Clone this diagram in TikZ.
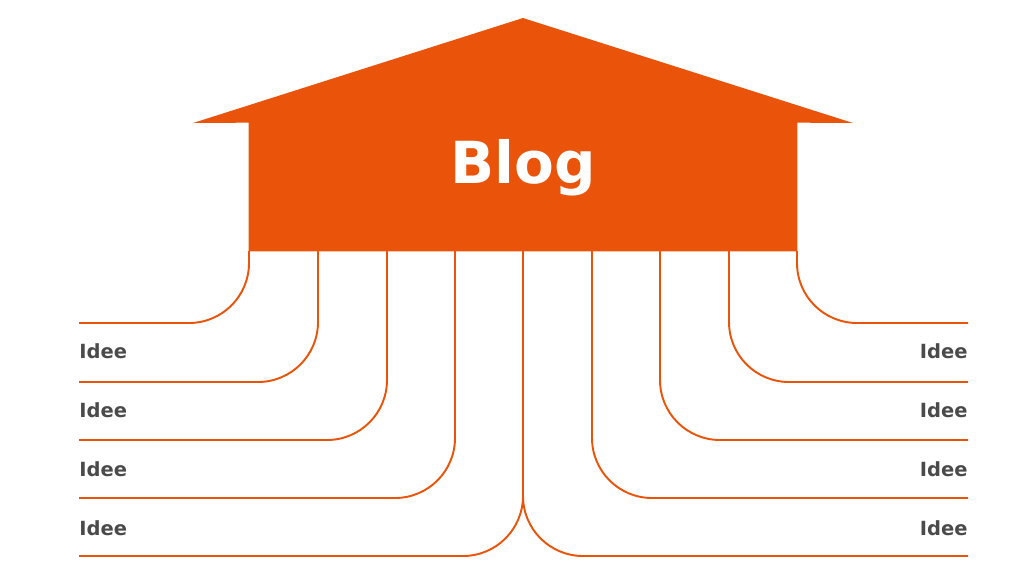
\documentclass[tikz,border=0pt]{standalone}
\usepackage{fontspec}
\setmainfont{DejaVu Sans}
\usepackage{tikz}
\usetikzlibrary{positioning}
\definecolor{blogorange}{HTML}{E9540A}
\definecolor{ideagray}{HTML}{4A4A4A}
\tikzstyle{housebody} = [rectangle, fill=blogorange, draw=none, minimum width=10.96cm, minimum height=2.56cm, inner sep=0pt]
\tikzstyle{title} = [text=white, font=\fontsize{33}{38}\selectfont\bfseries, inner sep=0pt]
\tikzstyle{idea} = [text=ideagray, font=\fontsize{11.1}{14}\selectfont\bfseries, inner sep=0pt]
\tikzstyle{branch} = [draw=blogorange, line width=1.1pt, rounded corners=1.2cm]

\begin{document}
\begin{tikzpicture}[x=0.02cm, y=-0.02cm]
\useasboundingbox (0,0) rectangle (1024,576);

% house
\node (body) [housebody] at (523,187) {};
\fill[blogorange] (193,123) -- (523,18) -- (853,123) -- (body.north east) -- (body.south east) -- (body.south west) -- (body.north west) -- cycle;
\node (blog) [title, anchor=base] at (523,183) {Blog};

% start points under the house
\coordinate (t1) at (249,251);
\coordinate (t2) at (318,251);
\coordinate (t3) at (387,251);
\coordinate (t4) at (455,251);
\coordinate (t5) at (523,251);
\coordinate (t6) at (592,251);
\coordinate (t7) at (660,251);
\coordinate (t8) at (729,251);
\coordinate (t9) at (797,251);

% ends left and right
\coordinate (l1) at (79,323);
\coordinate (l2) at (79,382);
\coordinate (l3) at (79,440);
\coordinate (l4) at (79,498);
\coordinate (l5) at (79,556);
\coordinate (r1) at (968,323);
\coordinate (r2) at (968,382);
\coordinate (r3) at (968,440);
\coordinate (r4) at (968,498);
\coordinate (r5) at (968,556);

% branches
\draw [branch] (t1) |- (l1);
\draw [branch] (t2) |- (l2);
\draw [branch] (t3) |- (l3);
\draw [branch] (t4) |- (l4);
\draw [branch] (t5) |- (l5);
\draw [branch] (t5) |- (r5);
\draw [branch] (t6) |- (r4);
\draw [branch] (t7) |- (r3);
\draw [branch] (t8) |- (r2);
\draw [branch] (t9) |- (r1);

% ideas
\node (il1) [idea, anchor=base west] at (79,358) {Idee};
\node (il2) [idea, anchor=base west] at (79,417) {Idee};
\node (il3) [idea, anchor=base west] at (79,476) {Idee};
\node (il4) [idea, anchor=base west] at (79,535) {Idee};
\node (ir1) [idea, anchor=base east] at (968,358) {Idee};
\node (ir2) [idea, anchor=base east] at (968,417) {Idee};
\node (ir3) [idea, anchor=base east] at (968,476) {Idee};
\node (ir4) [idea, anchor=base east] at (968,535) {Idee};
\end{tikzpicture}
\end{document}
